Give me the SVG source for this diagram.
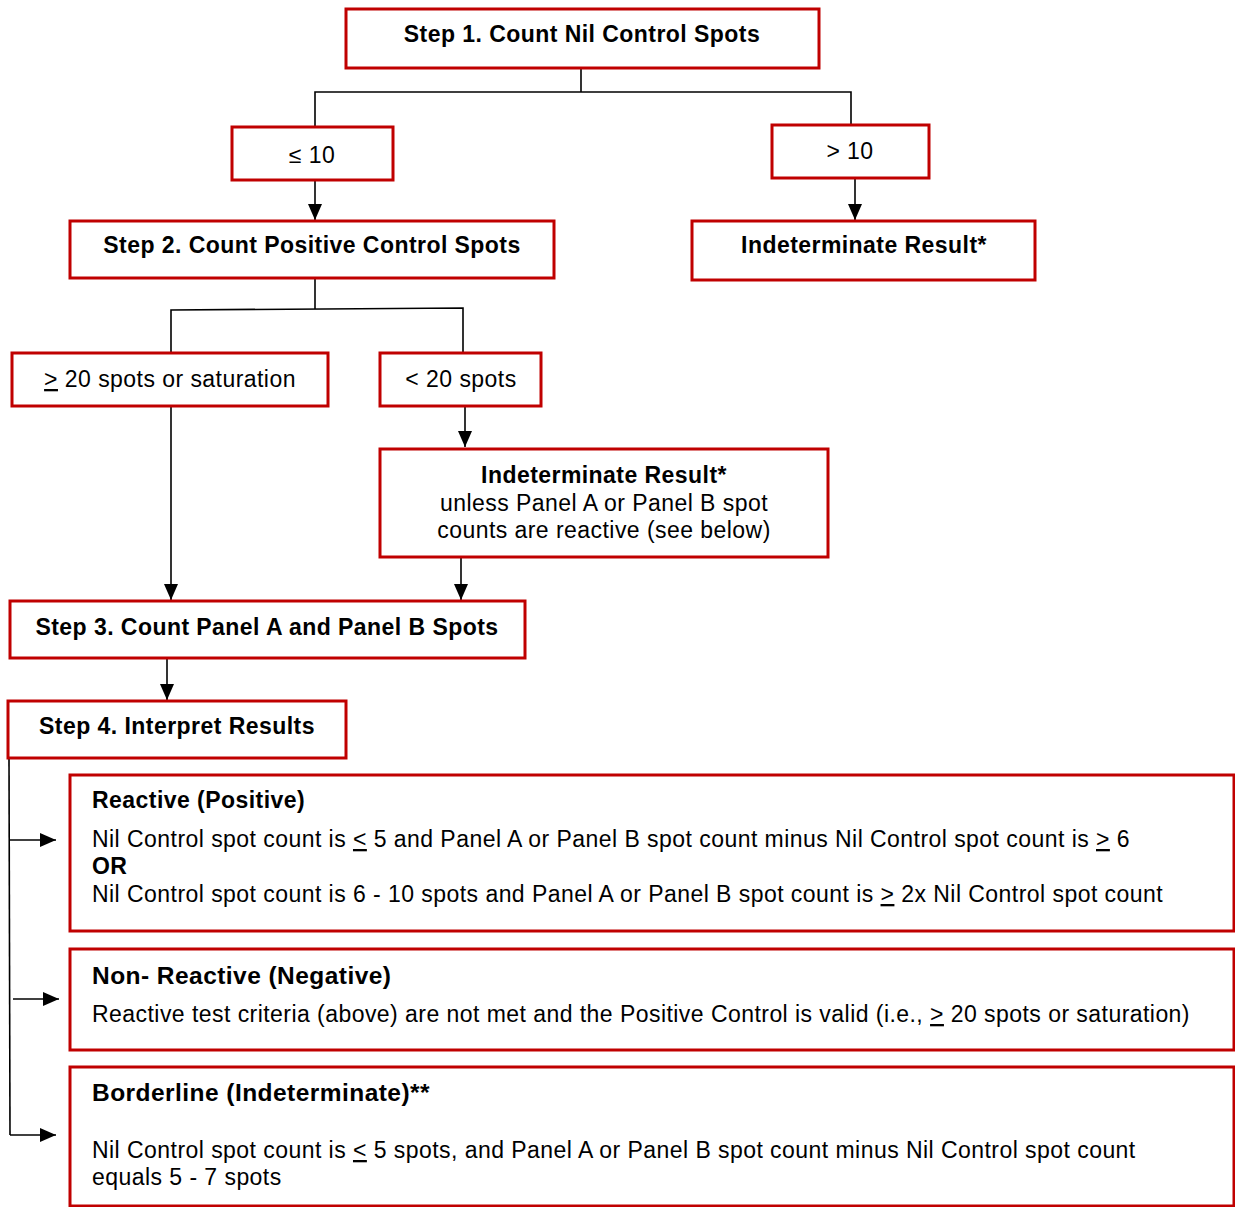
<svg xmlns="http://www.w3.org/2000/svg" width="1235" height="1207" viewBox="0 0 1235 1207">
<defs>
<marker id="ah" markerWidth="16" markerHeight="14" refX="16" refY="7" orient="auto" markerUnits="userSpaceOnUse">
<path d="M0,0 L16,7 L0,14 Z" fill="#000"/>
</marker>
<style>
.box{fill:#fff;stroke:#C00000;stroke-width:3}
.t{font-family:"Liberation Sans",Arial,sans-serif;font-size:23px;letter-spacing:0.45px;fill:#000}
.b{font-weight:bold}
.h{font-size:24.5px}
.c{text-anchor:middle}
.ln{fill:none;stroke:#000;stroke-width:1.6}
.u{text-decoration:underline}
</style>
</defs>
<rect width="1235" height="1207" fill="#fff"/>
<g id="connectors">
<polyline class="ln" points="581,68 581,92"/>
<polyline class="ln" points="315,127 315,92 851,92 851,125"/>
<line class="ln" x1="315" y1="180" x2="315" y2="220" marker-end="url(#ah)"/>
<line class="ln" x1="855" y1="178" x2="855" y2="220" marker-end="url(#ah)"/>
<polyline class="ln" points="315,278 315,309"/>
<polyline class="ln" points="171,352 171,310 463,308 463,352"/>
<line class="ln" x1="171" y1="406" x2="171" y2="600" marker-end="url(#ah)"/>
<line class="ln" x1="465" y1="406" x2="465" y2="447" marker-end="url(#ah)"/>
<line class="ln" x1="461" y1="557" x2="461" y2="600" marker-end="url(#ah)"/>
<line class="ln" x1="167" y1="658" x2="167" y2="700" marker-end="url(#ah)"/>
<polyline class="ln" points="9,758 10,1135"/>
<line class="ln" x1="10" y1="840" x2="56" y2="840" marker-end="url(#ah)"/>
<line class="ln" x1="13" y1="999" x2="59" y2="999" marker-end="url(#ah)"/>
<line class="ln" x1="10" y1="1135" x2="56" y2="1135" marker-end="url(#ah)"/>
</g>
<g id="step1">
<rect class="box" x="346" y="9" width="473" height="59"/>
<text class="t b c" x="582" y="42">Step 1. Count Nil Control Spots</text>
</g>
<g id="le10">
<rect class="box" x="232" y="127" width="161" height="53"/>
<text class="t c" x="312" y="163">≤ 10</text>
</g>
<g id="gt10">
<rect class="box" x="772" y="125" width="157" height="53"/>
<text class="t c" x="850" y="159">&gt; 10</text>
</g>
<g id="step2">
<rect class="box" x="70" y="221" width="484" height="57"/>
<text class="t b c" x="312" y="253">Step 2. Count Positive Control Spots</text>
</g>
<g id="indet1">
<rect class="box" x="692" y="221" width="343" height="59"/>
<text class="t b c" x="864" y="253">Indeterminate Result*</text>
</g>
<g id="ge20">
<rect class="box" x="12" y="353" width="316" height="53"/>
<text class="t c" x="170" y="387"><tspan class="u">&gt;</tspan> 20 spots or saturation</text>
</g>
<g id="lt20">
<rect class="box" x="380" y="353" width="161" height="53"/>
<text class="t c" x="461" y="387">&lt; 20 spots</text>
</g>
<g id="indet2">
<rect class="box" x="380" y="449" width="448" height="108"/>
<text class="t b c" x="604" y="483">Indeterminate Result*</text>
<text class="t c" x="604" y="511">unless Panel A or Panel B spot</text>
<text class="t c" x="604" y="538">counts are reactive (see below)</text>
</g>
<g id="step3">
<rect class="box" x="10" y="601" width="515" height="57"/>
<text class="t b c" x="267" y="635">Step 3. Count Panel A and Panel B Spots</text>
</g>
<g id="step4">
<rect class="box" x="8" y="701" width="338" height="57"/>
<text class="t b c" x="177" y="734">Step 4. Interpret Results</text>
</g>
<g id="reactive">
<rect class="box" x="70" y="775" width="1164" height="156"/>
<text class="t b" x="92" y="808">Reactive (Positive)</text>
<text class="t" x="92" y="847">Nil Control spot count is <tspan class="u">&lt;</tspan> 5 and Panel A or Panel B spot count minus Nil Control spot count is <tspan class="u">&gt;</tspan> 6</text>
<text class="t b" x="92" y="874">OR</text>
<text class="t" x="92" y="902">Nil Control spot count is 6 - 10 spots and Panel A or Panel B spot count is <tspan class="u">&gt;</tspan> 2x Nil Control spot count</text>
</g>
<g id="nonreactive">
<rect class="box" x="70" y="949" width="1164" height="101"/>
<text class="t b h" x="92" y="984">Non- Reactive (Negative)</text>
<text class="t" x="92" y="1022">Reactive test criteria (above) are not met and the Positive Control is valid (i.e., <tspan class="u">&gt;</tspan> 20 spots or saturation)</text>
</g>
<g id="borderline">
<rect class="box" x="70" y="1067" width="1164" height="139"/>
<text class="t b h" x="92" y="1101">Borderline (Indeterminate)**</text>
<text class="t" x="92" y="1158">Nil Control spot count is <tspan class="u">&lt;</tspan> 5 spots, and Panel A or Panel B spot count minus Nil Control spot count</text>
<text class="t" x="92" y="1185">equals 5 - 7 spots</text>
</g>
</svg>
